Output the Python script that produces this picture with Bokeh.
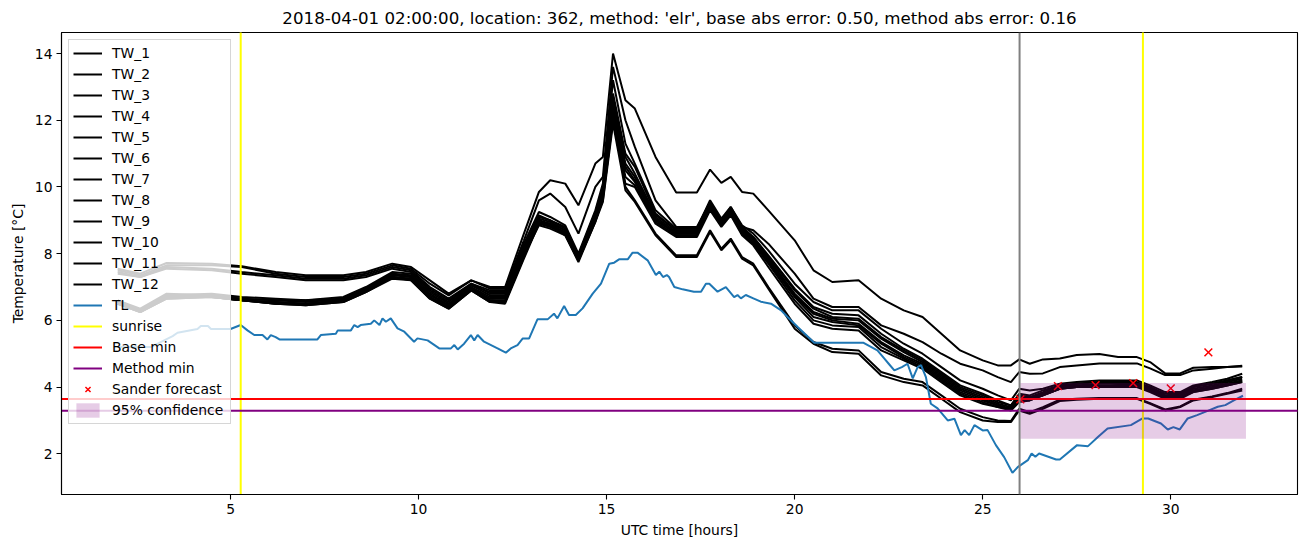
from bokeh.plotting import figure
from bokeh.models import Range1d, Span, FixedTicker
from bokeh.embed import file_html
from bokeh.resources import INLINE

title_text = "2018-04-01 02:00:00, location: 362, method: 'elr', base abs error: 0.50, method abs error: 0.16"

tw_hours = [2.0, 2.6, 3.3, 4.5, 5.3, 6.2, 7.0, 8.0, 8.6, 9.3,
            9.8, 10.3, 10.8, 11.4, 11.9, 12.3, 12.8, 13.2, 13.5, 13.9,
            14.25, 14.7, 14.9, 15.17, 15.5, 15.75, 16.3, 16.85, 17.4, 17.75,
            18.05, 18.3, 18.6, 18.9, 19.3, 20.0, 20.5, 21.0, 21.7, 22.3,
            22.9, 23.4, 23.9, 24.4, 25.0, 25.4, 25.75, 25.97, 26.25, 26.6,
            27.05, 27.5, 28.1, 28.6, 29.1, 29.45, 29.85, 30.25, 30.6, 31.1,
            31.5, 31.9]

tw_1 = [7.55, 7.4, 7.72, 7.7, 7.62, 7.45, 7.35, 7.35, 7.45, 7.7,
        7.6, 7.2, 6.8, 7.2, 7.0, 7.0, 8.6, 9.85, 10.2, 10.1,
        9.45, 10.7, 10.9, 14.0, 12.6, 12.35, 10.9, 9.83, 9.83, 10.52,
        10.12, 10.3, 9.85, 9.8, 9.3, 8.4, 7.5, 7.15, 7.2, 6.65,
        6.3, 6.1, 5.6, 5.1, 4.8, 4.65, 4.65, 4.83, 4.7, 4.83,
        4.86, 4.96, 4.99, 4.9, 4.9, 4.75, 4.41, 4.41, 4.58, 4.6,
        4.6, 4.64]
tw_2 = [7.5, 7.35, 7.65, 7.65, 7.6, 7.4, 7.3, 7.3, 7.4, 7.65,
        7.55, 7.1, 6.75, 7.2, 6.95, 6.95, 8.4, 9.6, 9.8, 9.4,
        8.6, 10.0, 10.3, 13.6, 12.0, 11.2, 9.6, 8.8, 8.8, 9.55,
        9.0, 9.4, 8.8, 8.7, 8.3, 7.4, 6.65, 6.4, 6.4, 5.85,
        5.6, 5.35, 5.0, 4.7, 4.5, 4.3, 4.15, 4.45, 4.4, 4.41,
        4.6, 4.65, 4.71, 4.71, 4.71, 4.56, 4.36, 4.36, 4.5, 4.55,
        4.6, 4.62]
tw_3 = [7.45, 7.3, 7.6, 7.55, 7.45, 7.35, 7.25, 7.25, 7.35, 7.6,
        7.5, 7.0, 6.65, 7.1, 6.9, 6.9, 8.3, 9.25, 9.1, 8.85,
        8.0, 9.3, 10.1, 13.2, 11.3, 10.7, 9.3, 8.75, 8.75, 9.6,
        9.05, 9.4, 8.85, 8.6, 8.1, 7.1, 6.55, 6.3, 6.3, 5.75,
        5.3, 5.0, 4.6, 4.2, 3.95, 3.75, 3.6, 3.95, 3.9, 3.95,
        4.1, 4.15, 4.2, 4.2, 4.2, 4.05, 3.85, 3.85, 4.05, 4.15,
        4.25, 4.4]
tw_4 = [7.4, 7.3, 7.55, 7.5, 7.4, 7.3, 7.2, 7.2, 7.3, 7.55,
        7.45, 6.95, 6.6, 7.05, 6.85, 6.85, 8.2, 9.15, 9.0, 8.8,
        7.95, 9.25, 10.0, 12.8, 11.0, 10.6, 9.2, 8.7, 8.7, 9.55,
        9.0, 9.35, 8.8, 8.5, 7.95, 6.95, 6.4, 6.2, 6.15, 5.6,
        5.15, 4.85, 4.45, 4.05, 3.8, 3.6, 3.45, 3.8, 3.75, 3.9,
        4.05, 4.1, 4.15, 4.15, 4.15, 4.0, 3.8, 3.8, 4.0, 4.1,
        4.2, 4.3]
tw_5 = [6.6, 6.3, 6.75, 6.8, 6.7, 6.65, 6.6, 6.7, 7.0, 7.45,
        7.4, 6.9, 6.55, 7.1, 6.8, 6.8, 8.2, 9.1, 9.0, 8.75,
        7.95, 9.2, 9.95, 12.7, 10.9, 10.4, 9.15, 8.7, 8.7, 9.5,
        9.0, 9.35, 8.75, 8.5, 7.9, 6.9, 6.35, 6.1, 6.05, 5.5,
        5.1, 4.8, 4.4, 4.0, 3.75, 3.55, 3.45, 3.75, 3.7, 3.85,
        4.05, 4.1, 4.15, 4.1, 4.1, 4.0, 3.75, 3.8, 4.0, 4.1,
        4.2, 4.3]
tw_6 = [6.55, 6.3, 6.7, 6.75, 6.65, 6.6, 6.6, 6.65, 6.95, 7.4,
        7.35, 6.85, 6.5, 7.05, 6.75, 6.75, 8.1, 9.05, 8.95, 8.7,
        7.9, 9.15, 9.9, 12.6, 10.7, 10.3, 9.1, 8.65, 8.65, 9.45,
        8.95, 9.3, 8.7, 8.45, 7.85, 6.8, 6.25, 6.05, 6.0, 5.45,
        5.05, 4.75, 4.35, 3.95, 3.7, 3.5, 3.4, 3.7, 3.7, 3.8,
        4.0, 4.05, 4.1, 4.1, 4.1, 3.95, 3.75, 3.75, 3.95, 4.05,
        4.15, 4.25]
tw_7 = [6.5, 6.25, 6.7, 6.7, 6.6, 6.55, 6.5, 6.6, 6.9, 7.35,
        7.3, 6.8, 6.45, 7.0, 6.7, 6.7, 8.05, 9.0, 8.9, 8.7,
        7.9, 9.1, 9.85, 12.5, 10.6, 10.2, 9.05, 8.6, 8.6, 9.4,
        8.9, 9.25, 8.7, 8.4, 7.8, 6.75, 6.2, 6.0, 5.9, 5.35,
        4.95, 4.7, 4.3, 3.9, 3.65, 3.45, 3.35, 3.65, 3.65, 3.8,
        4.0, 4.05, 4.05, 4.05, 4.05, 3.9, 3.7, 3.7, 3.9, 4.0,
        4.1, 4.2]
tw_8 = [6.6, 6.35, 6.8, 6.75, 6.65, 6.6, 6.55, 6.65, 6.95, 7.4,
        7.3, 6.75, 6.45, 6.95, 6.65, 6.65, 8.0, 8.95, 8.85, 8.65,
        7.85, 9.05, 9.8, 12.3, 10.5, 10.15, 9.0, 8.6, 8.6, 9.4,
        8.9, 9.2, 8.65, 8.35, 7.75, 6.7, 6.1, 5.95, 5.85, 5.3,
        4.9, 4.65, 4.25, 3.85, 3.6, 3.45, 3.35, 3.6, 3.65, 3.75,
        3.95, 4.0, 4.05, 4.05, 4.05, 3.9, 3.7, 3.7, 3.9, 4.0,
        4.1, 4.2]
tw_9 = [6.55, 6.3, 6.75, 6.7, 6.6, 6.5, 6.5, 6.6, 6.9, 7.3,
        7.25, 6.7, 6.4, 6.95, 6.6, 6.6, 8.0, 8.9, 8.8, 8.6,
        7.85, 9.0, 9.75, 12.2, 10.3, 10.05, 8.95, 8.55, 8.55, 9.35,
        8.85, 9.2, 8.6, 8.3, 7.7, 6.6, 6.0, 5.85, 5.8, 5.2,
        4.85, 4.6, 4.2, 3.8, 3.55, 3.4, 3.35, 3.6, 3.6, 3.75,
        3.95, 4.0, 4.0, 4.05, 4.05, 3.9, 3.7, 3.7, 3.85, 3.95,
        4.05, 4.15]
tw_10 = [6.5, 6.25, 6.65, 6.7, 6.6, 6.5, 6.45, 6.55, 6.85, 7.3,
         7.2, 6.65, 6.35, 6.9, 6.55, 6.55, 7.95, 8.85, 8.75, 8.55,
         7.8, 8.95, 9.7, 12.0, 10.1, 10.0, 8.9, 8.5, 8.5, 9.3,
         8.8, 9.15, 8.55, 8.25, 7.6, 6.5, 5.9, 5.75, 5.7, 5.1,
         4.8, 4.55, 4.15, 3.75, 3.5, 3.4, 3.3, 3.55, 3.6, 3.75,
         3.95, 4.0, 4.0, 4.0, 4.0, 3.85, 3.65, 3.65, 3.85, 3.95,
         4.05, 4.15]
tw_11 = [6.55, 6.3, 6.7, 6.7, 6.6, 6.55, 6.5, 6.6, 6.9, 7.3,
         7.25, 6.7, 6.4, 6.95, 6.6, 6.55, 7.9, 8.95, 8.9, 8.6,
         7.8, 9.0, 9.6, 12.1, 10.0, 9.6, 8.6, 7.95, 7.95, 8.7,
         8.15, 8.45, 7.9, 7.7, 7.0, 5.85, 5.35, 5.15, 5.1, 4.45,
         4.25, 4.15, 3.75, 3.35, 3.1, 3.0, 2.98, 3.35, 3.25, 3.4,
         3.62, 3.65, 3.67, 3.67, 3.67, 3.52, 3.33, 3.42, 3.62, 3.72,
         3.82, 3.95]
tw_12 = [6.5, 6.25, 6.65, 6.7, 6.6, 6.5, 6.45, 6.55, 6.85, 7.25,
         7.2, 6.65, 6.35, 6.9, 6.55, 6.5, 7.85, 8.9, 8.85, 8.55,
         7.75, 8.95, 9.55, 11.9, 9.9, 9.55, 8.55, 7.9, 7.9, 8.65,
         8.1, 8.4, 7.85, 7.65, 6.95, 5.75, 5.3, 5.05, 5.0, 4.35,
         4.15, 4.05, 3.65, 3.25, 3.0, 2.95, 2.95, 3.3, 3.2, 3.35,
         3.58, 3.62, 3.65, 3.65, 3.65, 3.5, 3.3, 3.4, 3.6, 3.7,
         3.8, 3.9]

tl_hours = [2.0, 2.88, 3.46, 3.59, 4.12, 4.21, 4.4, 4.48, 5.0, 5.27,
            5.45, 5.63, 5.85, 5.98, 6.07, 6.2, 6.3, 7.31, 7.4, 7.8,
            7.85, 8.2, 8.29, 8.38, 8.46, 8.73, 8.82, 8.96, 9.04, 9.13,
            9.26, 9.44, 9.62, 9.88, 9.97, 10.24, 10.55, 10.86, 10.95, 11.04,
            11.21, 11.39, 11.48, 11.57, 11.74, 12.1, 12.32, 12.45, 12.63, 12.77,
            12.94, 13.16, 13.43, 13.6, 13.69, 13.87, 14.0, 14.18, 14.36, 14.63,
            14.85, 15.07, 15.2, 15.33, 15.56, 15.69, 15.82, 16.09, 16.31, 16.4,
            16.5, 16.6, 16.66, 16.8, 17.02, 17.32, 17.51, 17.64, 17.73, 17.95,
            18.17, 18.39, 18.48, 18.57, 18.7, 18.9, 19.1, 19.37, 19.64, 19.81,
            20.08, 20.52, 21.82, 22.2, 22.38, 22.5, 22.65, 22.85, 23.0, 23.14,
            23.27, 23.36, 23.49, 23.62, 23.8, 24.07, 24.25, 24.42, 24.52, 24.64,
            24.78, 25.0, 25.13, 25.35, 25.57, 25.79, 25.93, 26.2, 26.3, 26.4,
            26.5, 26.95, 27.05, 27.51, 27.8, 28.07, 28.32, 28.94, 29.25, 29.4,
            29.74, 29.92, 30.07, 30.24, 30.45, 30.7, 31.03, 31.25, 31.45, 31.69,
            31.92]
tl_temp = [5.2, 5.2, 5.53, 5.63, 5.74, 5.83, 5.83, 5.74, 5.74, 5.86,
           5.7, 5.56, 5.56, 5.43, 5.56, 5.5, 5.43, 5.43, 5.56, 5.6,
           5.7, 5.7, 5.86, 5.8, 5.86, 5.9, 6.0, 5.86, 6.06, 5.96,
           6.06, 5.76, 5.66, 5.36, 5.46, 5.4, 5.16, 5.16, 5.26, 5.13,
           5.3, 5.56, 5.4, 5.56, 5.36, 5.16, 5.03, 5.16, 5.26, 5.46,
           5.46, 6.03, 6.03, 6.2, 6.06, 6.43, 6.16, 6.16, 6.36, 6.8,
           7.1, 7.7, 7.73, 7.83, 7.83, 8.03, 8.03, 7.8, 7.36, 7.46,
           7.3, 7.36, 7.3, 7.0, 6.93, 6.86, 6.86, 7.1, 7.1, 6.86,
           7.0, 6.7, 6.76, 6.66, 6.76, 6.66, 6.56, 6.5, 6.3, 6.1,
           5.8, 5.33, 5.33, 5.1, 4.86, 4.7, 4.5, 4.6, 4.7, 4.26,
           4.6, 4.66, 4.3, 3.5, 3.36, 3.0, 3.05, 2.56, 2.71, 2.56,
           2.86, 2.7, 2.71, 2.26, 1.9, 1.43, 1.6, 1.81, 2.01, 1.91,
           2.01, 1.83, 1.83, 2.26, 2.23, 2.51, 2.76, 2.86, 3.06, 3.06,
           2.91, 2.73, 2.8, 2.73, 3.06, 3.16, 3.31, 3.41, 3.46, 3.61,
           3.74]

sunrise_hours = [5.27, 29.26]
forecast_hour = 25.98
base_min = 3.64
method_min = 3.29
sander_hours = [26, 27, 28, 29, 30, 31]
sander_temp = [3.63, 4.03, 4.06, 4.12, 3.96, 5.04]
conf_start, conf_end = 26.0, 32.0
conf_low, conf_high = 2.45, 4.12
x_ticks = [5, 10, 15, 20, 25, 30]
y_ticks = [2, 4, 6, 8, 10, 12, 14]

tw_series = [("TW_1", tw_1), ("TW_2", tw_2), ("TW_3", tw_3), ("TW_4", tw_4),
             ("TW_5", tw_5), ("TW_6", tw_6), ("TW_7", tw_7), ("TW_8", tw_8),
             ("TW_9", tw_9), ("TW_10", tw_10), ("TW_11", tw_11), ("TW_12", tw_12)]

FONT = "DejaVu Sans"
LW = 2.0
X0, X1 = 0.505, 33.37
Y0, Y1 = 0.78, 14.63

p = figure(width=1310, height=547, x_range=Range1d(X0, X1), y_range=Range1d(Y0, Y1),
           output_backend="svg", toolbar_location=None, title=title_text,
           min_border_left=61, min_border_right=13, min_border_top=32, min_border_bottom=53)

p.title.align = "center"
p.title.text_font = FONT
p.title.text_font_size = "16.67px"
p.title.text_font_style = "normal"
p.title.text_color = "black"

p.grid.visible = False
p.outline_line_color = "black"
p.outline_line_width = 1.1
p.outline_line_alpha = 1
p.background_fill_color = "white"
p.border_fill_color = "white"

for name, vals in tw_series:
    p.line(tw_hours, vals, line_color="black", line_width=LW, legend_label=name)

p.line(tl_hours, tl_temp, line_color="#1f77b4", line_width=LW, legend_label="TL")

p.segment(x0=sunrise_hours, y0=[Y0 - 5] * len(sunrise_hours), x1=sunrise_hours,
          y1=[Y1 + 5] * len(sunrise_hours), line_color="yellow", line_width=LW,
          legend_label="sunrise")
p.segment(x0=[X0 - 5], y0=[base_min], x1=[X1 + 5], y1=[base_min],
          line_color="red", line_width=LW, legend_label="Base min")
p.segment(x0=[X0 - 5], y0=[method_min], x1=[X1 + 5], y1=[method_min],
          line_color="purple", line_width=LW, legend_label="Method min")

p.add_layout(Span(location=forecast_hour, dimension="height", line_color="gray", line_width=LW))

p.scatter(sander_hours, sander_temp, marker="x", size=11, line_color="red", line_width=1.5,
          legend_label="Sander forecast")

p.quad(left=[conf_start], right=[conf_end], bottom=[conf_low], top=[conf_high],
       fill_color="purple", fill_alpha=0.2, line_alpha=0, legend_label="95% confidence")

for ax in (p.xaxis[0], p.yaxis[0]):
    ax.major_label_text_font = FONT
    ax.major_label_text_font_size = "13.89px"
    ax.major_label_text_color = "black"
    ax.axis_label_text_font = FONT
    ax.axis_label_text_font_size = "13.89px"
    ax.axis_label_text_font_style = "normal"
    ax.axis_label_text_color = "black"
    ax.major_tick_out = 5
    ax.major_tick_in = 0
    ax.minor_tick_out = 0
    ax.minor_tick_in = 0
    ax.axis_line_color = "black"
    ax.axis_line_width = 1.1
    ax.major_tick_line_color = "black"
    ax.major_tick_line_width = 1.1
    ax.major_label_standoff = 4

p.xaxis[0].ticker = FixedTicker(ticks=x_ticks)
p.yaxis[0].ticker = FixedTicker(ticks=y_ticks)
p.xaxis[0].axis_label = "UTC time [hours]"
p.yaxis[0].axis_label = "Temperature [°C]"
p.yaxis[0].axis_label_standoff = 6
p.xaxis[0].axis_label_standoff = 5

lg = p.legend[0]
lg.location = "top_left"
lg.margin = 7
lg.padding = 4
lg.spacing = 3
lg.glyph_height = 18
lg.label_height = 18
lg.glyph_width = 29
lg.label_width = 114
lg.label_standoff = 10
lg.label_text_font = FONT
lg.label_text_font_size = "13.89px"
lg.label_text_color = "black"
lg.background_fill_alpha = 0.8
lg.border_line_color = "#cccccc"
lg.border_line_alpha = 0.8
lg.border_line_width = 1

open("out.html", "w").write(file_html(p, INLINE))
